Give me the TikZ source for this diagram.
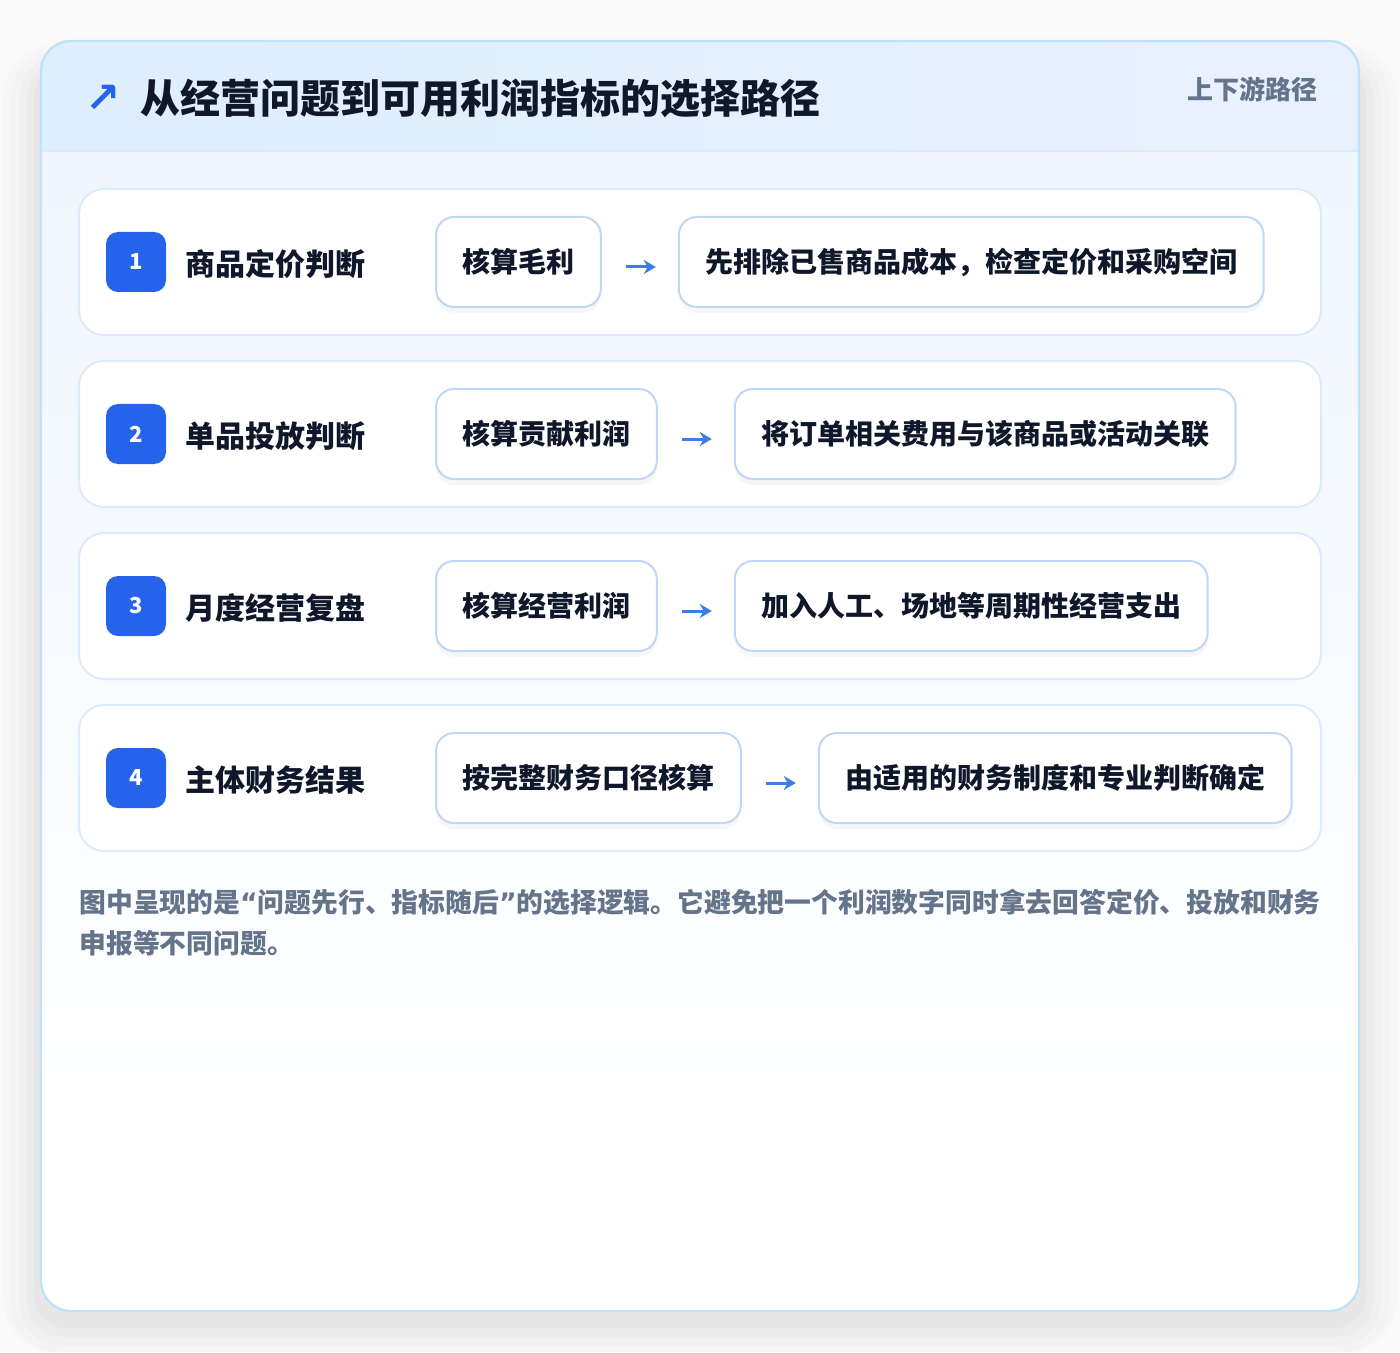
\documentclass[tikz,border=0pt]{standalone}
\usepackage{fontspec}
\setmainfont{Noto Sans CJK SC}
\newfontfamily\symfont{DejaVu Sans}
\usetikzlibrary{positioning,arrows.meta}
\definecolor{ink}{HTML}{0F172A}
\definecolor{slate}{HTML}{64748B}
\definecolor{brand}{HTML}{2563EB}
\definecolor{flowblue}{HTML}{3B7DE3}
\definecolor{cardline}{HTML}{BEE3F8}
\definecolor{rowline}{HTML}{DCEBFB}
\definecolor{boxline}{HTML}{BFD7F6}
\definecolor{headL}{HTML}{DDEEFD}
\definecolor{headR}{HTML}{EAF1FE}
\definecolor{bodytop}{HTML}{EFF6FF}
\definecolor{pagebg}{HTML}{FAFAFB}
\begin{document}
\begin{tikzpicture}[x=.5pt,y=-.5pt,
  rowbox/.style={draw=rowline,line width=1pt,fill=white,rounded corners=12.5pt,
    minimum width=621pt,minimum height=73pt,inner sep=0pt},
  badge/.style={fill=brand,rounded corners=6pt,minimum size=30pt,inner sep=0pt,
    text=white,font=\bfseries\fontsize{11}{11}\selectfont},
  question/.style={anchor=west,inner sep=0pt,text=ink,font=\bfseries\fontsize{15}{15}\selectfont},
  metric/.style={draw=boxline,line width=1pt,fill=white,rounded corners=9pt,
    minimum height=45pt,inner xsep=13.2pt,text=ink,font=\bfseries\fontsize{14}{14}\selectfont,
    preaction={fill=black,opacity=.035,transform canvas={yshift=-3pt}}},
  flow/.style={-{Stealth[length=6pt,width=7pt]},draw=flowblue,line width=1.5pt,
    shorten <=12pt,shorten >=11pt},
  node distance=38pt]
\useasboundingbox (0,0) rectangle (1400,1352);
\fill[pagebg] (0,0) rectangle (1400,1352);
% soft shadow under the card
\fill[black,opacity=.010,rounded corners=27pt] (3,45) rectangle (1397,1352);
\fill[black,opacity=.012,rounded corners=24pt] (11,50) rectangle (1389,1352);
\fill[black,opacity=.014,rounded corners=21pt] (19,55) rectangle (1381,1345);
\fill[black,opacity=.016,rounded corners=18pt] (27,60) rectangle (1373,1337);
\fill[black,opacity=.018,rounded corners=16pt] (34,64) rectangle (1366,1328);
% card
\begin{scope}
  \clip[rounded corners=15pt] (41,41) rectangle (1359,1311);
  \fill[white] (41,41) rectangle (1359,1311);
  \shade[top color=bodytop,bottom color=white] (41,151) rectangle (1359,1100);
  \shade[left color=headL,right color=headR] (41,41) rectangle (1359,151);
  \draw[rowline,line width=1pt] (41,151) -- (1359,151);
\end{scope}
\draw[cardline,line width=1.2pt,rounded corners=15pt] (41,41) rectangle (1359,1311);

\node[anchor=west,inner sep=0pt,text=brand,font=\symfont\bfseries\fontsize{21}{21}\selectfont] (icon) at (85,99) {↗};
\node[anchor=west,inner sep=0pt,text=ink,font=\bfseries\fontsize{20}{20}\selectfont] (title) at (140,98) {从经营问题到可用利润指标的选择路径};
\node[anchor=east,inner sep=0pt,text=slate,font=\bfseries\fontsize{13}{13}\selectfont] (tag) at (1318,89) {上下游路径};

% row 1
\node[rowbox] (row1) at (700,262) {};
\node[badge] (n1) at (136,262) {1};
\node[question] (q1) at (185,264) {商品定价判断};
\node[metric,anchor=west] (m1) at (435,262) {核算毛利};
\node[metric,right=of m1] (d1) {先排除已售商品成本，检查定价和采购空间};
\draw[flow] ([yshift=-2.5pt]m1.east) -- ([yshift=-2.5pt]d1.west);

% row 2
\node[rowbox] (row2) at (700,434) {};
\node[badge] (n2) at (136,434) {2};
\node[question] (q2) at (185,436) {单品投放判断};
\node[metric,anchor=west] (m2) at (435,434) {核算贡献利润};
\node[metric,right=of m2] (d2) {将订单相关费用与该商品或活动关联};
\draw[flow] ([yshift=-2.5pt]m2.east) -- ([yshift=-2.5pt]d2.west);

% row 3
\node[rowbox] (row3) at (700,606) {};
\node[badge] (n3) at (136,606) {3};
\node[question] (q3) at (185,608) {月度经营复盘};
\node[metric,anchor=west] (m3) at (435,606) {核算经营利润};
\node[metric,right=of m3] (d3) {加入人工、场地等周期性经营支出};
\draw[flow] ([yshift=-2.5pt]m3.east) -- ([yshift=-2.5pt]d3.west);

% row 4
\node[rowbox] (row4) at (700,778) {};
\node[badge] (n4) at (136,778) {4};
\node[question] (q4) at (185,780) {主体财务结果};
\node[metric,anchor=west] (m4) at (435,778) {按完整财务口径核算};
\node[metric,right=of m4] (d4) {由适用的财务制度和专业判断确定};
\draw[flow] ([yshift=-2.5pt]m4.east) -- ([yshift=-2.5pt]d4.west);

\node[anchor=north west,inner sep=0pt,align=left,text=slate,font=\bfseries\fontsize{13.4}{20.5}\selectfont] (note) at (79,889)
  {图中呈现的是{\symfont“}问题先行、指标随后{\symfont”}的选择逻辑。它避免把一个利润数字同时拿去回答定价、投放和财务\\申报等不同问题。};
\end{tikzpicture}
\end{document}
